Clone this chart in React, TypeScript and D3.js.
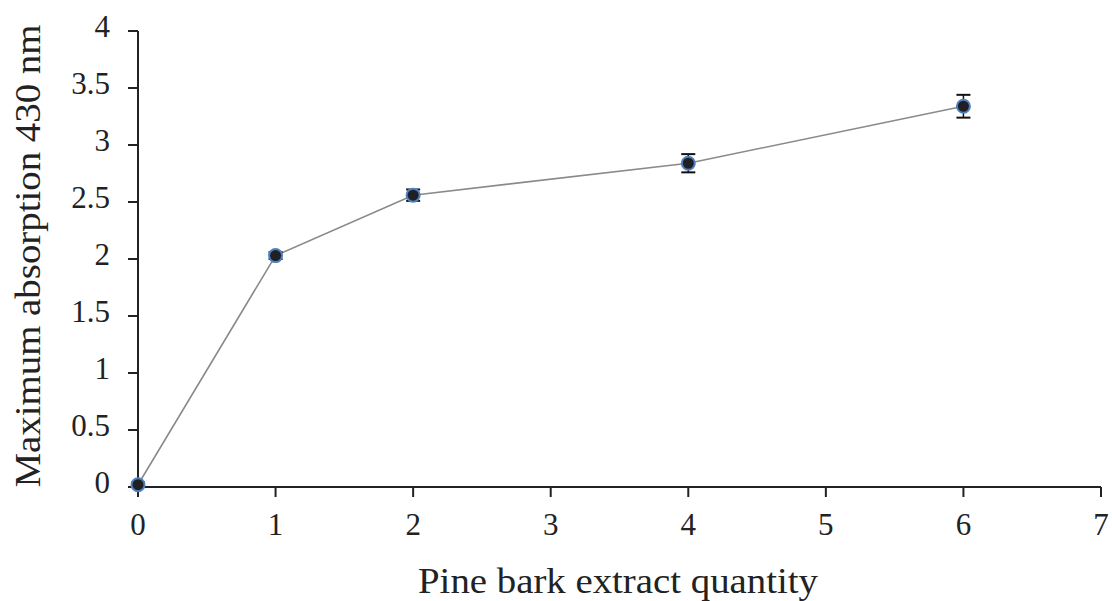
import React from "react";
import * as d3 from "d3";

const xValues = [0, 1, 2, 4, 6];
const yValues = [0.02, 2.03, 2.56, 2.84, 3.34];
const yErrors = [0.02, 0.03, 0.05, 0.08, 0.1];
const xTicks = [0, 1, 2, 3, 4, 5, 6, 7];
const yTicks = [0, 0.5, 1, 1.5, 2, 2.5, 3, 3.5, 4];

export default function App() {
  const W = 1112, H = 601;
  const x = d3.scaleLinear().domain([0, 7]).range([138, 1101]);
  const y = d3.scaleLinear().domain([0, 4]).range([487, 31]);
  const line = d3.line<number>().x((_, i) => x(xValues[i])).y((d) => y(d));
  const font = '"Liberation Serif", "Times New Roman", Times, serif';
  return (
    <svg width={W} height={H} style={{ position: "absolute", left: 0, top: 0, background: "#fff", fontFamily: font }}>
      <path d={line(yValues) || ""} fill="none" stroke="#8a8a8a" strokeWidth={1.6} />
      <line x1={x(0)} x2={x(0)} y1={y(4)} y2={y(0)} stroke="#222" strokeWidth={2} />
      <line x1={x(0)} x2={x(7)} y1={y(0)} y2={y(0)} stroke="#222" strokeWidth={2} />
      {yTicks.map((t) => (
        <g key={"y" + t}>
          <line x1={x(0) - 10} x2={x(0)} y1={y(t)} y2={y(t)} stroke="#222" strokeWidth={2} />
          <text x={110} y={y(t) + 6} textAnchor="end" fontSize={31} fill="#222" style={{ fontFamily: font }}>{t}</text>
        </g>
      ))}
      {xTicks.map((t) => (
        <g key={"x" + t}>
          <line x1={x(t)} x2={x(t)} y1={y(0)} y2={y(0) + 10} stroke="#222" strokeWidth={2} />
          <text x={x(t)} y={535} textAnchor="middle" fontSize={31} fill="#222" style={{ fontFamily: font }}>{t}</text>
        </g>
      ))}
      {xValues.map((xv, i) => {
        const cx = x(xv), cy = y(yValues[i]);
        const top = y(yValues[i] + yErrors[i]), bot = y(yValues[i] - yErrors[i]);
        return (
          <g key={"p" + i}>
            <line x1={cx} x2={cx} y1={top} y2={bot} stroke="#111" strokeWidth={1.5} />
            <line x1={cx - 7} x2={cx + 7} y1={top} y2={top} stroke="#111" strokeWidth={2} />
            <line x1={cx - 7} x2={cx + 7} y1={bot} y2={bot} stroke="#111" strokeWidth={2} />
            <circle cx={cx} cy={cy} r={6.5} fill="#1f1f24" stroke="#4f7fbf" strokeWidth={2} />
          </g>
        );
      })}
      <text x={618} y={593} textAnchor="middle" fontSize={35} fill="#222" textLength={400} lengthAdjust="spacingAndGlyphs" style={{ fontFamily: font }}>Pine bark extract quantity</text>
      <text transform={`translate(40,256) rotate(-90)`} textAnchor="middle" fontSize={35} fill="#222" textLength={463} lengthAdjust="spacingAndGlyphs" style={{ fontFamily: font }}>Maximum absorption 430 nm</text>
    </svg>
  );
}
